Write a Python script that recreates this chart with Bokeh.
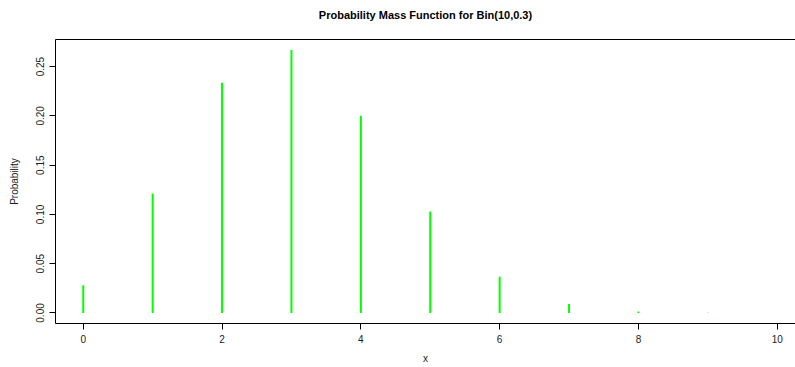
from bokeh.plotting import figure
from bokeh.models import LinearAxis, FixedTicker, Range1d
from bokeh.embed import file_html
from bokeh.resources import INLINE

# Data (Bin(10, 0.3) probability mass)
x_vals = [0, 1, 2, 3, 4, 5, 6, 7, 8, 9, 10]
probs = [0.0282, 0.1211, 0.2335, 0.2668, 0.2001, 0.1029, 0.0368, 0.0090, 0.0014, 0.0001, 0.0000059]
x_ticks = [0, 2, 4, 6, 8, 10]
y_ticks = [0.00, 0.05, 0.10, 0.15, 0.20, 0.25]
y_tick_labels = ["0.00", "0.05", "0.10", "0.15", "0.20", "0.25"]
title_text = "Probability Mass Function for Bin(10,0.3)"
x_label = "x"
y_label = "Probability"

FONT = "Liberation Sans"
X_START, X_END = -0.4, 10.263

p = figure(width=795, height=367, output_backend="svg", toolbar_location=None,
           x_range=Range1d(X_START, X_END), y_range=Range1d(-0.0107, 0.2775),
           x_axis_location=None, y_axis_location=None,
           min_border_left=55, min_border_right=0, min_border_top=39, min_border_bottom=44)
p.outline_line_color = None
p.xgrid.visible = False
p.ygrid.visible = False
p.background_fill_color = "white"
p.border_fill_color = "white"

p.segment(x0=x_vals, y0=[0] * len(x_vals), x1=x_vals, y1=probs,
          line_color="#00FF00", line_width=2)

xa = LinearAxis(ticker=FixedTicker(ticks=x_ticks), axis_label=x_label)
ya = LinearAxis(ticker=FixedTicker(ticks=y_ticks), axis_label=y_label)
ya.major_label_overrides = {t: l for t, l in zip(y_ticks, y_tick_labels)}
ya.major_label_orientation = "vertical"
for ax in (xa, ya):
    ax.axis_line_color = "black"
    ax.axis_line_width = 1
    ax.major_tick_line_color = "black"
    ax.major_tick_in = 0
    ax.major_tick_out = 6
    ax.minor_tick_line_color = None
    ax.major_label_text_font = FONT
    ax.major_label_text_font_size = "10px"
    ax.major_label_text_color = "#222222"
    ax.axis_label_text_font = FONT
    ax.axis_label_text_font_size = "10px"
    ax.axis_label_text_font_style = "normal"
    ax.axis_label_text_color = "#222222"
xa.major_label_standoff = 5
xa.axis_label_standoff = 7
ya.major_label_standoff = 5
ya.axis_label_standoff = 14
p.add_layout(xa, "below")
p.add_layout(ya, "left")

# top border line of the plot box
top = LinearAxis(ticker=FixedTicker(ticks=[]))
top.axis_line_color = "black"
top.major_tick_line_color = None
top.major_tick_in = 0
top.major_tick_out = 0
top.major_label_standoff = 0
top.minor_tick_line_color = None
top.major_label_text_font_size = "0px"
p.add_layout(top, "above")

# title above the plot box
title_axis = LinearAxis(ticker=FixedTicker(ticks=[]), axis_label=title_text)
title_axis.axis_line_color = None
title_axis.major_tick_line_color = None
title_axis.major_tick_in = 0
title_axis.major_tick_out = 0
title_axis.major_label_standoff = 0
title_axis.minor_tick_line_color = None
title_axis.major_label_text_font_size = "0px"
title_axis.axis_label_standoff = 19
title_axis.axis_label_text_font = FONT
title_axis.axis_label_text_font_size = "11px"
title_axis.axis_label_text_font_style = "bold"
title_axis.axis_label_text_color = "black"
p.add_layout(title_axis, "above")

open("out.html", "w").write(file_html(p, INLINE))
